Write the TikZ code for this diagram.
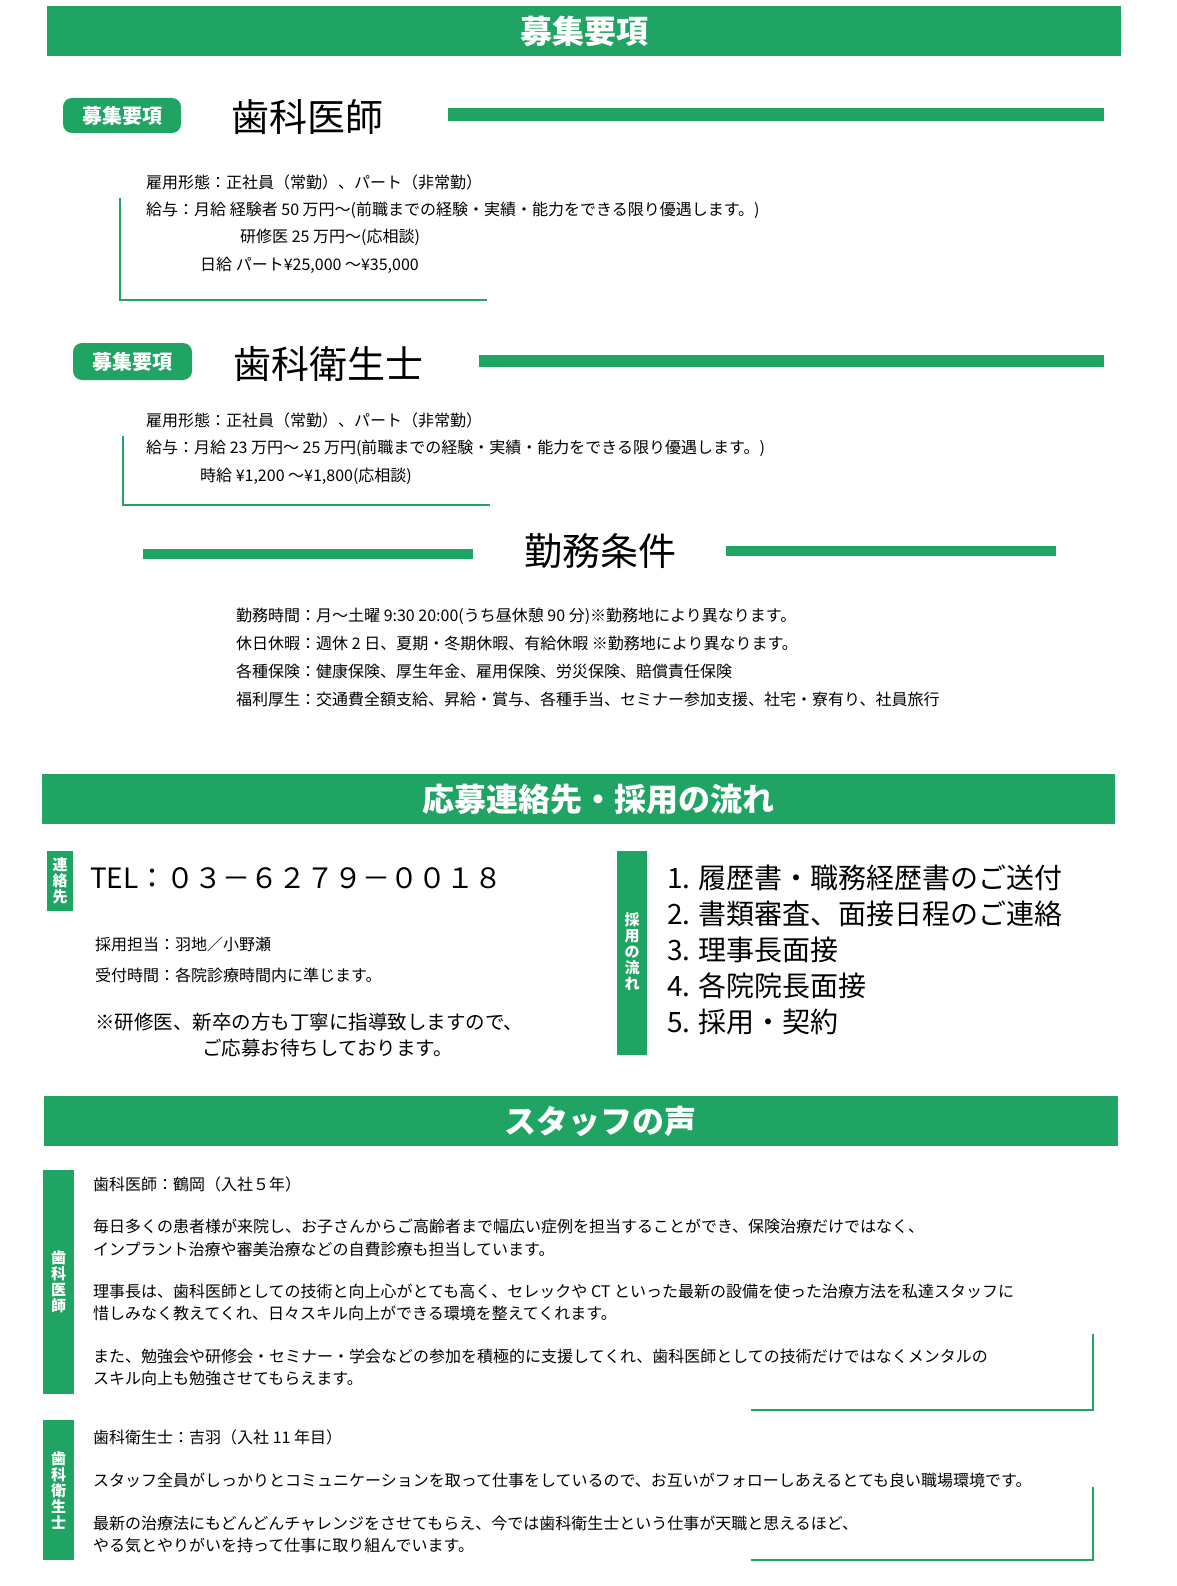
\documentclass[tikz,border=0pt]{standalone}
\usepackage{fontspec}
\setmainfont{Noto Sans CJK JP}
\definecolor{gr}{RGB}{32,164,100}
\tikzset{
 banner/.style={fill=gr},
 btext/.style={text=white,font=\fontsize{32}{34}\selectfont\bfseries},
 badge/.style={fill=gr,rounded corners=9pt},
 ttl/.style={anchor=west,font=\fontsize{38}{40}\selectfont},
 body/.style={anchor=west,inner sep=0pt,font=\fontsize{16}{18}\selectfont},
 big/.style={anchor=west,inner sep=0pt,font=\fontsize{28}{30}\selectfont},
 mid/.style={anchor=west,inner sep=0pt,font=\fontsize{19.5}{22}\selectfont},
 vt/.style={text=white,align=center,inner sep=0pt,font=\fontsize{15}{16}\selectfont\bfseries},
 gline/.style={draw=gr},
}
\begin{document}
\begin{tikzpicture}[x=1pt,y=-1pt]
\useasboundingbox (0,0) rectangle (1176,1586);
% top banner
\fill[banner] (47,6) rectangle (1121,56);
\node[btext] (b1) at (584,31) {募集要項};
% doctor
\fill[badge] (63,98) rectangle (181,133);
\node[text=white,font=\fontsize{20}{22}\selectfont\bfseries] (g1) at (122,115.5) {募集要項};
\node[ttl] (t1) at (228,117) {歯科医師};
\fill[gr] (448,108.5) rectangle (1104,121.5);
\node[body] (d1) at (146,182) {雇用形態：正社員（常勤）、パート（非常勤）};
\node[body] (d2) at (146,210) {給与：月給 経験者 50 万円～(前職までの経験・実績・能力をできる限り優遇します。)};
\node[body] (d3) at (240,237) {研修医 25 万円～(応相談)};
\node[body] (d4) at (200,265) {日給 パート¥25,000 ～¥35,000};
\draw[gline,line width=1.5pt] (120,198) -- (120,300) -- (487,300);
% hygienist
\fill[badge] (73,343) rectangle (192,380);
\node[text=white,font=\fontsize{20}{22}\selectfont\bfseries] (g2) at (132.5,361.5) {募集要項};
\node[ttl] (t2) at (230,364) {歯科衛生士};
\fill[gr] (479,355) rectangle (1104,367);
\node[body] (h1) at (146,420) {雇用形態：正社員（常勤）、パート（非常勤）};
\node[body] (h2) at (146,448) {給与：月給 23 万円～ 25 万円(前職までの経験・実績・能力をできる限り優遇します。)};
\node[body] (h3) at (200,476) {時給 ¥1,200 ～¥1,800(応相談)};
\draw[gline,line width=1.5pt] (123,436) -- (123,505) -- (490,505);
% conditions
\node[font=\fontsize{38}{40}\selectfont] (kc) at (600,551) {勤務条件};
\fill[gr] (143,549) rectangle (473,559);
\fill[gr] (726,546) rectangle (1056,556);
\node[body] (c1) at (236,616) {勤務時間：月～土曜 9:30~20:00(うち昼休憩 90 分)※勤務地により異なります。};
\node[body] (c2) at (236,643) {休日休暇：週休 2 日、夏期・冬期休暇、有給休暇 ※勤務地により異なります。};
\node[body] (c3) at (236,671) {各種保険：健康保険、厚生年金、雇用保険、労災保険、賠償責任保険};
\node[body] (c4) at (236,699) {福利厚生：交通費全額支給、昇給・賞与、各種手当、セミナー参加支援、社宅・寮有り、社員旅行};
% banner 2
\fill[banner] (42,774) rectangle (1115,824);
\node[btext] (b2) at (598,799) {応募連絡先・採用の流れ};
\fill[gr] (47,851) rectangle (73,911);
\node[vt] (v1) at (60,881) {連\\絡\\先};
\node[big] (tel) at (90,878) {TEL：０３－６２７９－００１８};
\node[body] (p1) at (95,944) {採用担当：羽地／小野瀬};
\node[body] (p2) at (95,975) {受付時間：各院診療時間内に準じます。};
\node[mid] (p3) at (95,1022) {※研修医、新卒の方も丁寧に指導致しますので、};
\node[mid] (p4) at (202,1048) {ご応募お待ちしております。};
\fill[gr] (617,851) rectangle (647,1055);
\node[vt] (v2) at (632,952) {採\\用\\の\\流\\れ};
\node[big] (l1) at (667,878) {1. 履歴書・職務経歴書のご送付};
\node[big] (l2) at (667,914) {2. 書類審査、面接日程のご連絡};
\node[big] (l3) at (667,950) {3. 理事長面接};
\node[big] (l4) at (667,986) {4. 各院院長面接};
\node[big] (l5) at (667,1022) {5. 採用・契約};
% banner 3
\fill[banner] (44,1096) rectangle (1118,1146);
\node[btext] (b3) at (600,1121) {スタッフの声};
\fill[gr] (43,1170) rectangle (74,1394);
\node[vt] (v3) at (58.5,1282) {歯\\科\\医\\師};
\node[body] (s1) at (93,1184) {歯科医師：鶴岡（入社５年）};
\node[body] (s2) at (93,1226) {毎日多くの患者様が来院し、お子さんからご高齢者まで幅広い症例を担当することができ、保険治療だけではなく、};
\node[body] (s3) at (93,1249) {インプラント治療や審美治療などの自費診療も担当しています。};
\node[body] (s4) at (93,1291) {理事長は、歯科医師としての技術と向上心がとても高く、セレックや CT といった最新の設備を使った治療方法を私達スタッフに};
\node[body] (s5) at (93,1313) {惜しみなく教えてくれ、日々スキル向上ができる環境を整えてくれます。};
\node[body] (s6) at (93,1356) {また、勉強会や研修会・セミナー・学会などの参加を積極的に支援してくれ、歯科医師としての技術だけではなくメンタルの};
\node[body] (s7) at (93,1378) {スキル向上も勉強させてもらえます。};
\draw[gline,line width=1.5pt] (1093,1334) -- (1093,1410) -- (751,1410);
\fill[gr] (43,1420) rectangle (74,1560);
\node[vt] (v4) at (58.5,1490) {歯\\科\\衛\\生\\士};
\node[body] (r1) at (93,1437) {歯科衛生士：吉羽（入社 11 年目）};
\node[body] (r2) at (93,1480) {スタッフ全員がしっかりとコミュニケーションを取って仕事をしているので、お互いがフォローしあえるとても良い職場環境です。};
\node[body] (r3) at (93,1523) {最新の治療法にもどんどんチャレンジをさせてもらえ、今では歯科衛生士という仕事が天職と思えるほど、};
\node[body] (r4) at (93,1545) {やる気とやりがいを持って仕事に取り組んでいます。};
\draw[gline,line width=1.5pt] (1093,1487) -- (1093,1560) -- (751,1560);
\end{tikzpicture}
\end{document}
